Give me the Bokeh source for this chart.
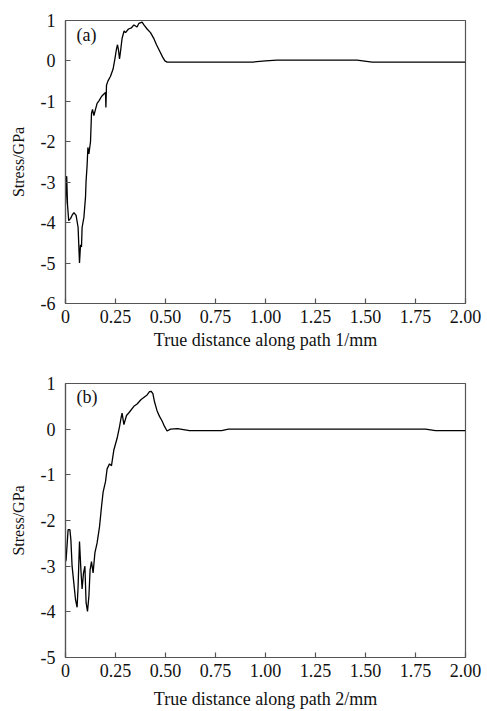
from bokeh.plotting import figure
from bokeh.layouts import column
from bokeh.models import FixedTicker, Label
from bokeh.embed import file_html
from bokeh.resources import INLINE

# ---- data (a): path 1 ----
a_x = [0.0, 0.006, 0.010, 0.016, 0.025, 0.035, 0.042, 0.053, 0.063, 0.070, 0.075, 0.080,
       0.083, 0.092, 0.100, 0.103, 0.108, 0.112, 0.117, 0.125, 0.130, 0.135, 0.142, 0.150,
       0.158, 0.168, 0.180, 0.192, 0.200, 0.202, 0.205, 0.212, 0.225, 0.238, 0.247, 0.255,
       0.260, 0.265, 0.270, 0.275, 0.283, 0.293, 0.300, 0.315, 0.330, 0.342, 0.358, 0.367,
       0.383, 0.392, 0.408, 0.425, 0.442, 0.455, 0.470, 0.485, 0.497, 0.508, 0.933, 1.000,
       1.058, 1.458, 1.533, 2.000]
a_y = [-3.55, -2.85, -3.55, -3.95, -3.90, -3.80, -3.75, -3.82, -4.12, -5.00, -4.55, -4.60,
       -4.12, -3.87, -3.37, -2.96, -2.59, -2.14, -2.30, -2.00, -1.30, -1.20, -1.35, -1.20,
       -1.05, -0.98, -0.88, -0.82, -0.78, -1.15, -0.60, -0.50, -0.38, -0.20, 0.05, 0.30,
       0.40, 0.27, 0.05, 0.23, 0.56, 0.74, 0.70, 0.79, 0.82, 0.89, 0.84, 0.93,
       0.96, 0.89, 0.79, 0.70, 0.55, 0.40, 0.25, 0.10, 0.00, -0.03, -0.03, 0.00,
       0.02, 0.02, -0.03, -0.03]

# ---- data (b): path 2 ----
b_x = [0.0, 0.003, 0.013, 0.022, 0.027, 0.033, 0.040, 0.050, 0.058, 0.063, 0.070, 0.077,
       0.083, 0.090, 0.097, 0.103, 0.110, 0.117, 0.123, 0.130, 0.138, 0.147, 0.158, 0.170,
       0.180, 0.188, 0.200, 0.208, 0.220, 0.230, 0.242, 0.258, 0.270, 0.278, 0.283, 0.292,
       0.305, 0.317, 0.342, 0.358, 0.378, 0.408, 0.420, 0.428, 0.437, 0.445, 0.458, 0.470,
       0.483, 0.495, 0.508, 0.525, 0.560, 0.620, 0.750, 0.780, 0.815, 1.000, 1.500, 1.800,
       1.850, 2.000]
b_y = [-2.90, -2.86, -2.20, -2.20, -2.43, -3.00, -3.30, -3.73, -3.90, -3.44, -2.46, -3.08,
       -3.50, -3.15, -3.00, -3.80, -3.99, -3.66, -3.08, -2.90, -3.15, -2.71, -2.49, -2.14,
       -1.70, -1.38, -1.15, -0.87, -0.76, -0.80, -0.45, -0.20, 0.05, 0.25, 0.35, 0.10,
       0.30, 0.36, 0.50, 0.55, 0.65, 0.75, 0.82, 0.83, 0.78, 0.60, 0.40, 0.28,
       0.18, 0.06, -0.04, 0.00, 0.01, -0.03, -0.03, -0.03, 0.00, 0.00, 0.00, 0.00,
       -0.03, -0.03]

x_ticks = [0, 0.25, 0.5, 0.75, 1.0, 1.25, 1.5, 1.75, 2.0]
x_tick_labels = ["0", "0.25", "0.50", "0.75", "1.00", "1.25", "1.50", "1.75", "2.00"]
a_y_ticks = [1, 0, -1, -2, -3, -4, -5, -6]
b_y_ticks = [1, 0, -1, -2, -3, -4, -5]

FONT = "Liberation Serif"
AX = "#555555"
TXT = "#111111"


def make(xs, ys, yticks, xlabel, tag, height, borders, title_standoff):
    left, right, top, bottom = borders
    frame_h = height - top - bottom
    p = figure(width=487, height=height, output_backend="svg", toolbar_location=None,
               x_range=(0, 2), y_range=(min(yticks), max(yticks)),
               min_border_left=left, min_border_right=right,
               min_border_top=top, min_border_bottom=bottom)
    p.line(xs, ys, line_color="black", line_width=1.3)
    p.grid.visible = False
    p.outline_line_color = AX
    p.outline_line_width = 1.2
    p.background_fill_color = "white"
    p.border_fill_color = "white"
    for ax in (p.xaxis[0], p.yaxis[0]):
        ax.axis_line_color = AX
        ax.axis_line_width = 1.2
        ax.major_tick_line_color = AX
        ax.major_tick_line_width = 1.2
        ax.major_tick_in = 5
        ax.major_tick_out = 0
        ax.minor_tick_line_color = None
        ax.major_label_text_font = FONT
        ax.major_label_text_color = TXT
        ax.major_label_text_font_size = "18px"
        ax.axis_label_text_font = FONT
        ax.axis_label_text_color = TXT
        ax.axis_label_text_font_style = "normal"
    p.xaxis.ticker = FixedTicker(ticks=x_ticks)
    p.xaxis.major_label_overrides = {t: l for t, l in zip(x_ticks, x_tick_labels)}
    p.yaxis.ticker = FixedTicker(ticks=yticks)
    p.yaxis.major_label_overrides = {t: str(t) for t in yticks}
    p.xaxis.axis_label = xlabel
    p.xaxis.axis_label_text_font_size = "18px"
    p.xaxis.major_label_standoff = 6
    p.xaxis.axis_label_standoff = title_standoff
    p.yaxis.axis_label = "Stress/GPa"
    p.yaxis.axis_label_text_font_size = "16px"
    p.yaxis.major_label_standoff = 10
    p.yaxis.axis_label_standoff = 11
    p.add_layout(Label(x=11, y=frame_h - 4, x_units="screen", y_units="screen",
                       text=tag, text_font=FONT, text_font_size="18px",
                       text_color=TXT, text_baseline="top", text_align="left"))
    return p


p1 = make(a_x, a_y, a_y_ticks, "True distance along path 1/mm", "(a)", 352, (65, 21, 20, 49), 4)
p2 = make(b_x, b_y, b_y_ticks, "True distance along path 2/mm", "(b)", 359, (62, 22, 31, 53), 9)

layout = column(p1, p2, spacing=0)
open("out.html", "w").write(file_html(layout, INLINE))
